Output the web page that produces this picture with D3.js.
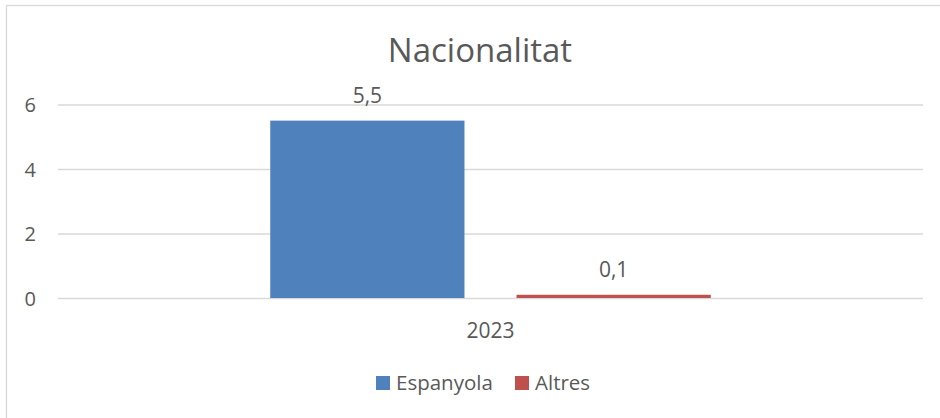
<!DOCTYPE html>
<html>
<head>
<meta charset="utf-8">
<script src="https://cdn.jsdelivr.net/npm/d3@7"></script>
<style>
html,body{margin:0;padding:0;background:#fff;}
svg{display:block;}
text{font-family:"Open Sans",sans-serif;fill:#595959;}
</style>
</head>
<body>
<svg id="chart" width="940" height="418"></svg>
<script>
const categories = ["2023"];
const seriesNames = ["Espanyola", "Altres"];
const seriesColors = ["#4F81BD", "#C0504D"];
const espanyolaValues = [5.5];
const altresValues = [0.1];
const yTicks = [0, 2, 4, 6];
const title = "Nacionalitat";

const svg = d3.select("#chart");
const W = 940, H = 418;

// chart border
svg.append("rect").attr("x", 6.5).attr("y", 5.5).attr("width", W + 10).attr("height", H + 10)
  .attr("fill", "none").attr("stroke", "#d9d9d9").attr("stroke-width", 1.3);

const plot = {left: 58, right: 923, top: 104.5, bottom: 298};

const y = d3.scaleLinear().domain([0, 6]).range([plot.bottom, plot.top]);
const x0 = d3.scaleBand().domain(categories).range([plot.left, plot.right]).padding(0);
const x1 = d3.scaleBand().domain(seriesNames).range([0, x0.bandwidth()])
  .paddingInner(0.2114).paddingOuter(0.8618);

// gridlines
const yAxis = d3.axisLeft(y).tickValues(yTicks).tickSize(-(plot.right - plot.left)).tickFormat(d3.format("d"));
const ga = svg.append("g").attr("transform", `translate(${plot.left},0)`).call(yAxis);
ga.select(".domain").remove();
ga.selectAll(".tick line").attr("stroke", "#d9d9d9").attr("stroke-width", 1.3);
ga.selectAll(".tick text").attr("x", -22).attr("dy", "0.35em")
  .style("font-size", "20px").style("fill", "#595959").style("font-family", "'Open Sans',sans-serif");

// bars
const data = [espanyolaValues, altresValues];
categories.forEach((cat, ci) => {
  seriesNames.forEach((s, si) => {
    const v = data[si][ci];
    const bx = x0(cat) + x1(s);
    svg.append("rect").attr("x", bx).attr("y", y(v))
      .attr("width", x1.bandwidth()).attr("height", y(0) - y(v))
      .attr("fill", seriesColors[si]);
    svg.append("text").attr("x", bx + x1.bandwidth() / 2).attr("y", y(v) - 18)
      .attr("text-anchor", "middle").style("font-size", "21px")
      .text(String(v).replace(".", ","));
  });
  svg.append("text").attr("x", x0(cat) + x0.bandwidth() / 2).attr("y", 337.5)
    .attr("text-anchor", "middle").style("font-size", "21px").text(cat);
});

// title
svg.append("text").attr("x", 480).attr("y", 61.5).attr("text-anchor", "middle")
  .style("font-size", "33px").text(title);

// legend
const legendItems = [{x: 376}, {x: 515}];
seriesNames.forEach((s, i) => {
  const lx = legendItems[i].x;
  svg.append("rect").attr("x", lx).attr("y", 376).attr("width", 14).attr("height", 14).attr("fill", seriesColors[i]);
  svg.append("text").attr("x", lx + 20).attr("y", 389.5).style("font-size", "20.5px").text(s);
});
</script>
</body>
</html>
